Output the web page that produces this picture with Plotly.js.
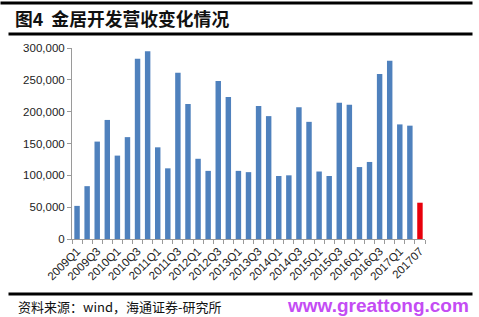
<!DOCTYPE html>
<html>
<head>
<meta charset="utf-8">
<script src="https://cdn.plot.ly/plotly-3.0.1.min.js"></script>
<style>
html,body{margin:0;padding:0;background:#fff;}
#chart{width:479px;height:317px;}
</style>
</head>
<body>
<div id="chart"></div>
<script>
const quarters = ["2009Q1","2009Q2","2009Q3","2009Q4","2010Q1","2010Q2","2010Q3","2010Q4",
  "2011Q1","2011Q2","2011Q3","2011Q4","2012Q1","2012Q2","2012Q3","2012Q4",
  "2013Q1","2013Q2","2013Q3","2013Q4","2014Q1","2014Q2","2014Q3","2014Q4",
  "2015Q1","2015Q2","2015Q3","2015Q4","2016Q1","2016Q2","2016Q3","2016Q4",
  "2017Q1","2017Q2"];
const quarterRevenue = [52000,83000,153000,187000,131000,160000,283000,295000,
  144000,111000,261000,212000,126000,107000,248000,223000,
  107000,105000,209000,193000,99000,100000,207000,184000,
  106000,99000,214000,211000,113000,121000,259000,280000,
  180000,178000];
const months = ["201707"];
const monthRevenue = [57000];
const categories = quarters.concat(months);
const tickLabels = categories.filter((c, i) => i % 2 === 0);

const xq = quarters.map((c) => categories.indexOf(c));
const xm = months.map((c) => categories.indexOf(c));
const tickIdx = tickLabels.map((c) => categories.indexOf(c));

const data = [
  {type:'bar', x:xq, y:quarterRevenue, marker:{color:'#4f81bd', line:{width:0}}, width:0.54, hoverinfo:'y'},
  {type:'bar', x:xm, y:monthRevenue, marker:{color:'#e8000b', line:{width:0}}, width:0.54, hoverinfo:'y'}
];

const L = 72, T = 48, PW = 353, PH = 191;
function px(x){ return (x - L) / PW; }
function py(y){ return (T + PH - y) / PH; }
function rule(ypx, x0px, x1px, h){
  return {xref:'paper', yref:'paper', x:px(x0px), y:py(ypx), xanchor:'left', yanchor:'middle',
    showarrow:false, text:' ', width:x1px - x0px, height:h, borderpad:0, bgcolor:'#000000',
    font:{size:1}};
}

const layout = {
  width:479, height:317,
  margin:{l:L, r:479-L-PW, t:T, b:317-T-PH},
  paper_bgcolor:'#ffffff', plot_bgcolor:'#ffffff',
  showlegend:false, barmode:'overlay',
  font:{family:'Liberation Sans, Arial, sans-serif', size:11, color:'#222'},
  xaxis:{
    range:[-0.5, categories.length - 0.5],
    tickmode:'array', tickvals:tickIdx, ticktext:tickLabels,
    tickangle:-45, ticks:'', showgrid:false, zeroline:false,
    showline:true, linecolor:'#9a9a9a', linewidth:1,
    tickfont:{size:11.5, color:'#222'},
    minor:{tickmode:'linear', tick0:-0.5, dtick:1, ticks:'outside', ticklen:4, tickcolor:'#9a9a9a', showgrid:false}
  },
  yaxis:{
    range:[0,300000], dtick:50000, tick0:0, tickformat:',',
    ticks:'outside', ticklen:4, tickcolor:'#9a9a9a',
    showline:true, linecolor:'#9a9a9a', linewidth:1,
    showgrid:false, zeroline:false,
    tickfont:{size:11.5, color:'#222'}
  },
  annotations:[
    rule(3, 0, 471, 2),
    rule(34, 8, 471, 2),
    rule(294, 8, 471, 1.5),
    {xref:'paper', yref:'paper', x:px(13), y:py(18), xanchor:'left', yanchor:'middle', showarrow:false,
     text:'<b>图4  金居开发营收变化情况</b>', font:{family:'Noto Sans CJK SC', size:17.8, color:'#111'}},
    {xref:'paper', yref:'paper', x:px(16), y:py(306), xanchor:'left', yanchor:'middle', showarrow:false,
     text:'资料来源：wind，海通证券-研究所', font:{family:'Noto Sans CJK SC', size:13, color:'#111'}},
    {xref:'paper', yref:'paper', x:px(471), y:py(305), xanchor:'right', yanchor:'middle', showarrow:false,
     text:'<b>www.greattong.com</b>', font:{family:'Liberation Sans, Arial, sans-serif', size:19, color:'#c44cf4'}}
  ]
};

Plotly.newPlot('chart', data, layout, {displayModeBar:false, staticPlot:true});
</script>
</body>
</html>
